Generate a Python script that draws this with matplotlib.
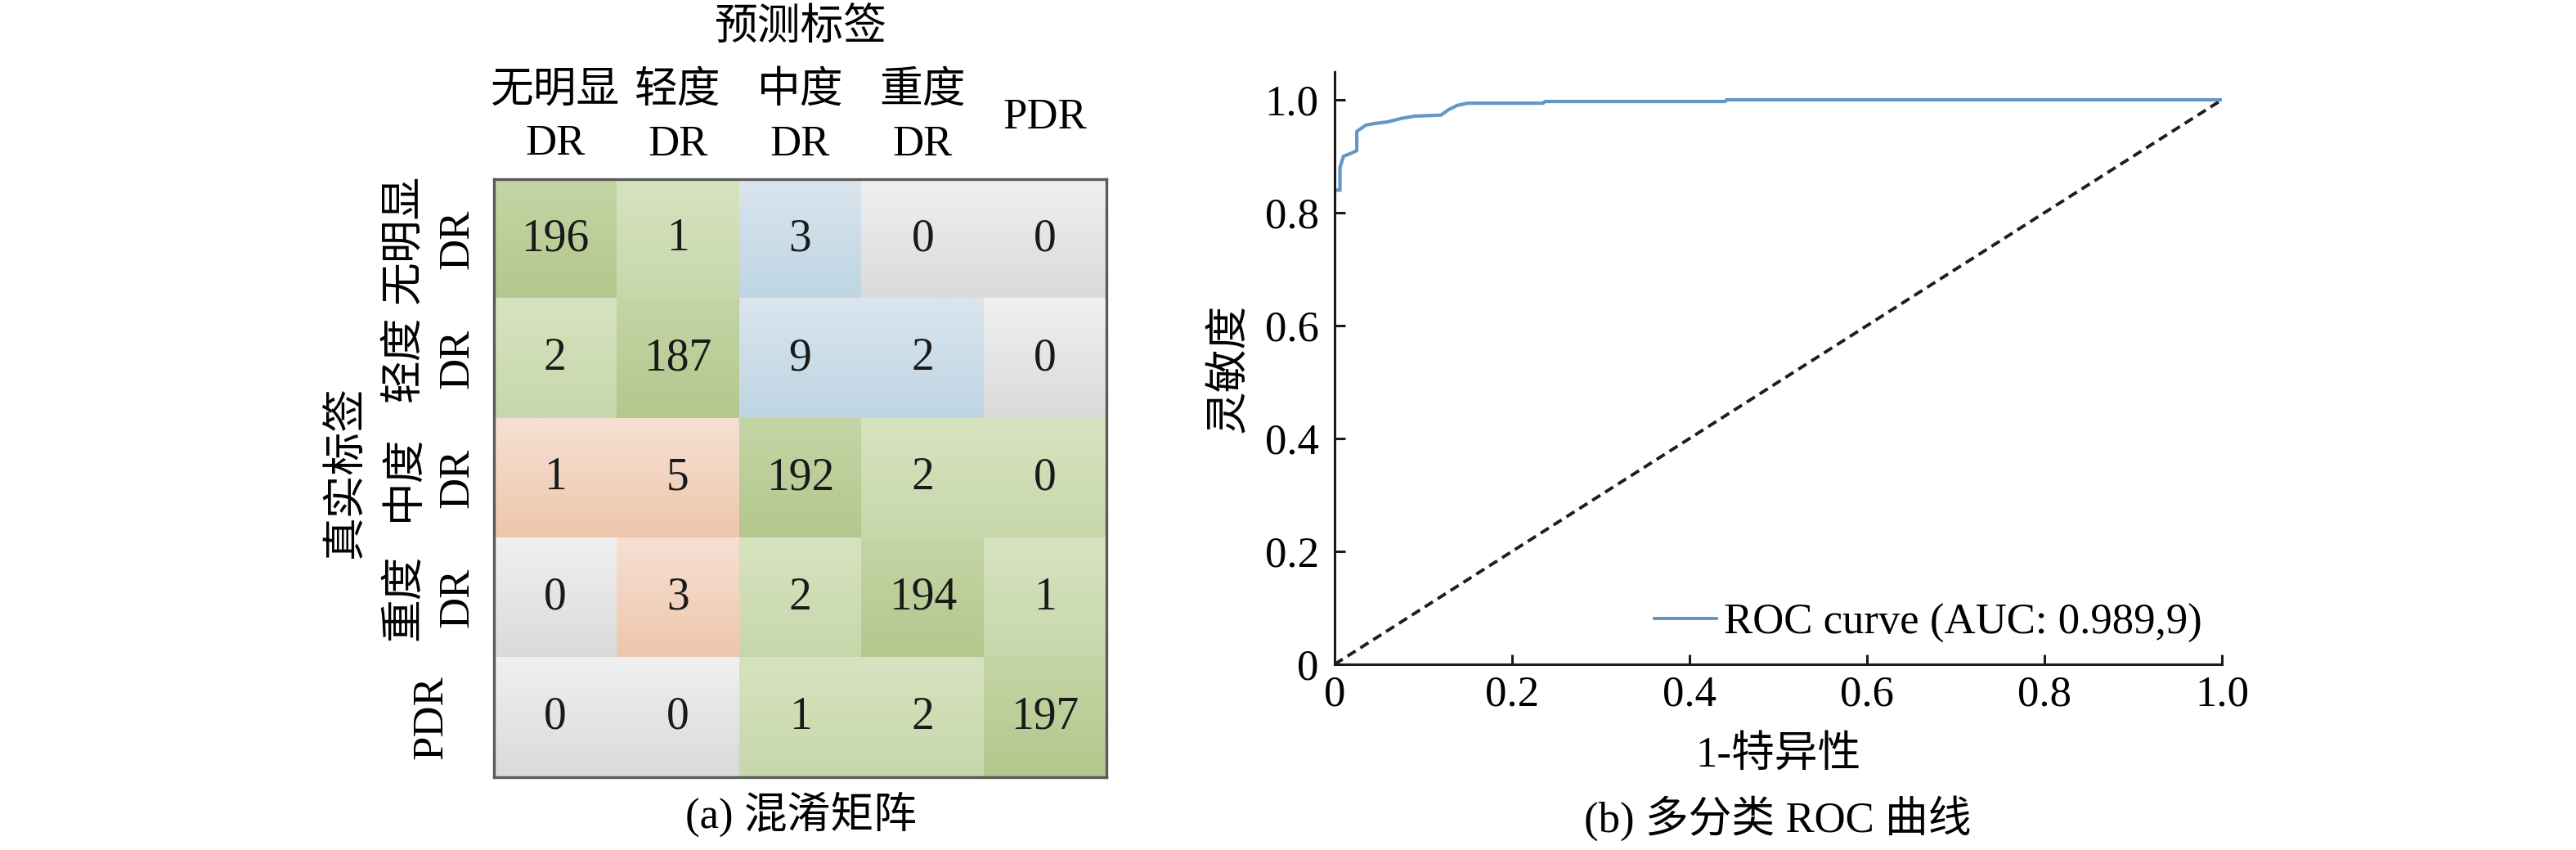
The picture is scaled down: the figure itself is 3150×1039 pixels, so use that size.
import matplotlib
matplotlib.use('Agg')
import matplotlib.pyplot as plt
import numpy as np
from matplotlib.transforms import blended_transform_factory
from matplotlib.colors import to_rgb

plt.rcParams['font.family'] = ['Liberation Serif', 'Noto Sans CJK SC']
plt.rcParams['axes.unicode_minus'] = False

# ---------------- data ----------------
class_labels = ['无明显\nDR', '轻度\nDR', '中度\nDR', '重度\nDR', 'PDR']
confusion = [
    [196, 1, 3, 0, 0],
    [2, 187, 9, 2, 0],
    [1, 5, 192, 2, 0],
    [0, 3, 2, 194, 1],
    [0, 0, 1, 2, 197],
]
# colour group of every cell: D dark green, L light green, B blue, N grey, O peach
cell_tone = [
    ['D', 'L', 'B', 'N', 'N'],
    ['L', 'D', 'B', 'B', 'N'],
    ['O', 'O', 'D', 'L', 'L'],
    ['N', 'O', 'L', 'D', 'L'],
    ['N', 'N', 'L', 'L', 'D'],
]
roc_fpr = [0.000, 0.000, 0.006, 0.006, 0.010, 0.018, 0.025, 0.025, 0.035, 0.045,
           0.060, 0.075, 0.090, 0.120, 0.128, 0.138, 0.150, 0.235, 0.237, 0.440,
           0.442, 1.000]
roc_tpr = [0.823, 0.840, 0.840, 0.880, 0.900, 0.905, 0.910, 0.944, 0.955, 0.958,
           0.961, 0.967, 0.971, 0.973, 0.982, 0.990, 0.994, 0.994, 0.997, 0.997,
           1.000, 1.000]
roc_label = 'ROC curve (AUC: 0.989,9)'
roc_ticks = [0, 0.2, 0.4, 0.6, 0.8, 1.0]
roc_tick_labels = ['0', '0.2', '0.4', '0.6', '0.8', '1.0']

# ---------------- styles ----------------
W, H = 3150, 1039
tone_colors = {
    'D': ('#c4d5a5', '#b4c78d'),
    'L': ('#d7e3c0', '#c7d7aa'),
    'B': ('#dae5ee', '#bed5e3'),
    'N': ('#f0f0f0', '#dadada'),
    'O': ('#f6e0d3', '#eec6ab'),
}
FS = 38

fig = plt.figure(figsize=(W / 100, H / 100), dpi=100)


def fx(px):
    return px / W


def fy(py):
    return 1 - py / H


# ---------------- confusion matrix ----------------
m_left, m_right, m_top, m_bot = 604, 1353, 219, 950
axm = fig.add_axes([fx(m_left), fy(m_bot), fx(m_right - m_left), (m_bot - m_top) / H])
n = len(class_labels)
for i in range(n):
    for j in range(n):
        c0, c1 = (np.array(to_rgb(c)) for c in tone_colors[cell_tone[i][j]])
        t = np.linspace(0, 1, 64)[:, None, None]
        grad = c0[None, None, :] * (1 - t) + c1[None, None, :] * t
        axm.imshow(grad, extent=(j - 0.5, j + 0.5, i + 0.5, i - 0.5),
                   origin='upper', aspect='auto', interpolation='bilinear')
        axm.text(j, i, str(confusion[i][j]), ha='center', va='center',
                 fontsize=40, color='#1a1a1a')
axm.set_xlim(-0.5, n - 0.5)
axm.set_ylim(n - 0.5, -0.5)
axm.set_xticks([])
axm.set_yticks([])
for s in axm.spines.values():
    s.set_color('#5a5a5a')
    s.set_linewidth(2.4)

tx = blended_transform_factory(axm.transData, fig.transFigure)
ty = blended_transform_factory(fig.transFigure, axm.transData)
for k, lab in enumerate(class_labels):
    axm.text(k, fy(144), lab, transform=tx, ha='center', va='center',
             fontsize=FS, linespacing=1.45, multialignment='center')
    axm.text(fx(527), k, lab, transform=ty, ha='center', va='center',
             rotation=90, fontsize=FS, linespacing=1.45, multialignment='center')

fig.text(fx(979), fy(35), '预测标签', ha='center', va='center', fontsize=FS)
fig.text(fx(424), fy(577), '真实标签', ha='center', va='center', rotation=90, fontsize=FS)
fig.text(fx(979), fy(995), '(a) 混淆矩阵', ha='center', va='center', fontsize=FS)

# ---------------- ROC ----------------
r_left, r_right, r_bot = 1632, 2717, 812
unit = 690
r_top = r_bot - 1.05 * unit
axr = fig.add_axes([fx(r_left), fy(r_bot), fx(r_right - r_left), (r_bot - r_top) / H])
axr.plot([0, 1], [0, 1], color='#1e1e1e', lw=2.8, linestyle=(0, (3.0, 1.8)))
axr.plot(roc_fpr, roc_tpr, color='#6398c6', lw=3.0, label=roc_label,
         solid_joinstyle='miter')
axr.set_xlim(0, 1.0)
axr.set_ylim(0, 1.05)
axr.spines['top'].set_visible(False)
axr.spines['right'].set_visible(False)
for s in ['left', 'bottom']:
    axr.spines[s].set_linewidth(2.2)
    axr.spines[s].set_color('#1a1a1a')
axr.set_xticks(roc_ticks)
axr.set_xticklabels(roc_tick_labels)
axr.set_yticks(roc_ticks)
axr.set_yticklabels(roc_tick_labels)
axr.tick_params(direction='in', length=9, width=2.2, labelsize=FS, color='#1a1a1a')
axr.tick_params(axis='x', pad=10)
axr.tick_params(axis='y', pad=14)
axr.set_xlabel('1-特异性', fontsize=FS, labelpad=18)
axr.set_ylabel('灵敏度', fontsize=FS, labelpad=14)
leg = axr.legend(loc='center right', bbox_to_anchor=(0.978, 50 / (r_bot - r_top)),
                 frameon=False, fontsize=FS, handlelength=1.45, handletextpad=0.17,
                 borderpad=0, borderaxespad=0)
for h in leg.get_lines():
    h.set_linewidth(2.6)
    h.set_color('#5b8bb5')
fig.text(fx(2174), fy(1000), '(b) 多分类 ROC 曲线', ha='center', va='center', fontsize=FS)

fig.savefig('out.png', dpi=100)
